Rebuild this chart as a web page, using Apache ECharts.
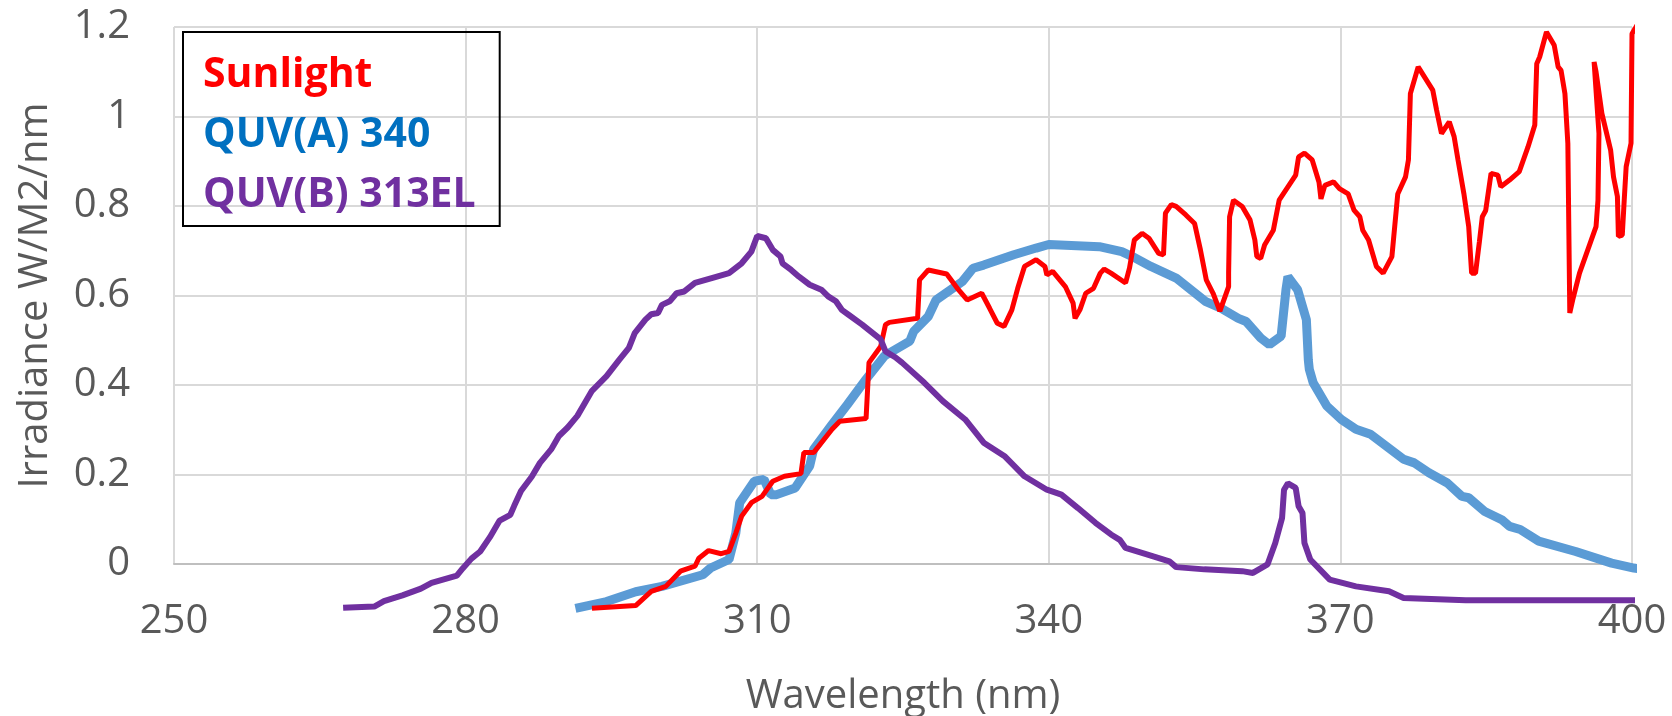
<!DOCTYPE html>
<html>
<head>
<meta charset="utf-8">
<script src="https://cdn.jsdelivr.net/npm/echarts@6/dist/echarts.min.js"></script>
<style>
html,body{margin:0;padding:0;background:#fff;}
#chart{width:1672px;height:716px;}
</style>
</head>
<body>
<div id="chart"></div>
<script>
// ---- data ----
const seriesNames = ['Sunlight', 'QUV(A) 340', 'QUV(B) 313EL'];
const wavelengthTicks = [250, 280, 310, 340, 370, 400];
const irradianceTicks = [0, 0.2, 0.4, 0.6, 0.8, 1, 1.2];

// [wavelength nm, irradiance W/m2/nm]
const sunlightData = [
  [293.0,-0.099],[297.5,-0.093],[299.1,-0.061],[300.6,-0.050],[302.1,-0.016],[303.6,-0.005],
  [304.0,0.013],[305.0,0.030],[306.3,0.023],[307.1,0.028],[307.8,0.069],[308.4,0.107],
  [309.4,0.137],[310.5,0.151],[311.6,0.185],[312.8,0.196],[314.5,0.202],[314.8,0.249],
  [315.8,0.249],[317.7,0.301],[318.5,0.319],[321.2,0.325],[321.5,0.450],[322.7,0.486],
  [323.2,0.535],[323.6,0.540],[326.5,0.549],[326.7,0.635],[327.6,0.657],[329.5,0.648],
  [330.7,0.613],[331.6,0.590],[333.1,0.605],[333.9,0.572],[334.7,0.538],[335.4,0.531],
  [336.2,0.568],[336.8,0.616],[337.5,0.665],[338.7,0.680],[339.6,0.665],[339.8,0.646],
  [340.4,0.654],[341.7,0.620],[342.5,0.583],[342.7,0.549],[343.2,0.568],[343.8,0.605],
  [344.6,0.616],[345.3,0.650],[345.7,0.659],[346.4,0.650],[347.9,0.628],[348.3,0.661],
  [348.8,0.724],[349.6,0.739],[350.3,0.728],[351.3,0.694],[351.8,0.691],[352.0,0.784],
  [352.6,0.803],[353.1,0.799],[354.1,0.780],[355.0,0.761],[355.6,0.702],[356.2,0.635],
  [356.9,0.605],[357.6,0.565],[358.5,0.620],[358.5,0.650],[358.6,0.776],[359.0,0.813],
  [359.9,0.799],[360.7,0.769],[361.2,0.724],[361.4,0.687],[361.8,0.683],[362.2,0.713],
  [363.1,0.746],[363.7,0.813],[365.4,0.869],[365.7,0.910],[366.3,0.918],[367.1,0.903],
  [367.8,0.853],[368.0,0.816],[368.4,0.846],[369.3,0.854],[369.9,0.839],[370.8,0.827],
  [371.4,0.791],[372.0,0.776],[372.3,0.746],[372.9,0.724],[373.7,0.665],[374.4,0.650],
  [375.3,0.687],[375.9,0.827],[376.7,0.865],[377.0,0.903],[377.2,1.051],[378.0,1.111],
  [379.5,1.059],[379.9,1.014],[380.4,0.962],[381.2,0.988],[381.7,0.955],[382.1,0.903],
  [382.7,0.828],[383.2,0.754],[383.5,0.650],[383.9,0.650],[384.3,0.720],[384.6,0.776],
  [384.95,0.790],[385.5,0.873],[386.2,0.869],[386.5,0.843],[387.4,0.858],[388.4,0.877],
  [389.3,0.932],[390.0,0.981],[390.2,1.118],[390.5,1.133],[391.2,1.189],[392.0,1.159],
  [392.4,1.111],[392.7,1.103],[393.1,1.051],[393.4,0.940],[393.6,0.561],[393.9,0.590],
  [394.6,0.650],[396.3,0.754],[396.5,0.813],[396.6,0.962],[396.1,1.122],[396.3,1.100],
  [396.9,1.007],[397.8,0.925],[398.1,0.865],[398.5,0.821],[398.6,0.732],[399.0,0.735],
  [399.2,0.813],[399.4,0.888],[399.9,0.940],[400.0,1.185],[400.6,1.207],[400.7,1.237]
];

const quvAData = [
  [291.3,-0.099],[294.5,-0.084],[297.5,-0.062],[300.2,-0.050],[304.4,-0.024],[305.2,-0.009],
  [307.1,0.010],[307.8,0.069],[308.2,0.137],[309.7,0.185],[310.7,0.189],[311.4,0.155],
  [312.0,0.155],[313.9,0.170],[315.4,0.219],[315.8,0.256],[317.7,0.312],[319.3,0.357],
  [321.2,0.413],[323.1,0.465],[325.7,0.498],[326.1,0.520],[327.6,0.553],[328.4,0.590],
  [331.1,0.631],[332.2,0.661],[333.3,0.668],[336.4,0.691],[338.7,0.706],[340.0,0.714],
  [345.2,0.709],[347.5,0.698],[348.6,0.687],[350.5,0.665],[353.1,0.639],[356.1,0.587],
  [357.7,0.572],[359.5,0.549],[360.3,0.542],[361.8,0.505],[362.7,0.490],[363.9,0.509],
  [364.4,0.613],[364.6,0.642],[365.6,0.613],[366.5,0.546],[366.7,0.456],[366.8,0.435],
  [367.2,0.405],[368.6,0.353],[370.1,0.323],[371.6,0.301],[373.1,0.290],[376.5,0.234],
  [377.6,0.226],[379.1,0.204],[381.0,0.181],[382.5,0.151],[383.2,0.148],[384.8,0.118],
  [386.6,0.099],[387.4,0.084],[388.5,0.077],[390.4,0.051],[394.2,0.028],[397.9,0.002],
  [400.2,-0.009],[401.3,-0.013]
];

const quvBData = [
  [267.4,-0.098],[270.6,-0.095],[271.6,-0.083],[273.5,-0.070],[275.4,-0.055],[276.5,-0.042],
  [279.1,-0.026],[279.7,-0.010],[280.6,0.012],[281.5,0.028],[282.5,0.060],[283.5,0.097],
  [284.6,0.110],[285.0,0.130],[285.7,0.163],[286.8,0.195],[287.65,0.226],[288.8,0.256],
  [289.6,0.286],[290.5,0.305],[291.5,0.331],[293.0,0.387],[294.5,0.420],[295.8,0.456],
  [296.8,0.483],[297.4,0.516],[298.5,0.546],[299.1,0.558],[299.8,0.561],[300.2,0.579],
  [301.0,0.587],[301.7,0.605],[302.5,0.609],[303.6,0.628],[305.5,0.640],[307.1,0.650],
  [308.4,0.672],[309.4,0.698],[310.0,0.733],[310.9,0.728],[311.6,0.702],[312.4,0.687],
  [312.6,0.672],[313.5,0.657],[314.3,0.642],[315.4,0.624],[316.6,0.613],[317.3,0.598],
  [318.1,0.587],[318.7,0.568],[319.4,0.557],[320.8,0.535],[322.7,0.502],[323.2,0.475],
  [324.2,0.462],[324.9,0.450],[327.2,0.405],[329.1,0.364],[331.4,0.323],[333.3,0.271],
  [335.5,0.240],[337.5,0.196],[339.8,0.166],[341.3,0.155],[343.0,0.125],[344.8,0.092],
  [346.4,0.066],[347.3,0.054],[347.9,0.036],[350.0,0.022],[352.4,0.006],[353.1,-0.007],
  [356.0,-0.012],[359.9,-0.016],[361.0,-0.020],[362.5,-0.001],[363.3,0.047],[364.0,0.103],
  [364.2,0.166],[364.6,0.180],[365.4,0.170],[365.7,0.129],[366.1,0.114],[366.3,0.047],
  [366.9,0.010],[368.9,-0.035],[371.6,-0.050],[375.0,-0.061],[376.5,-0.076],[382.9,-0.081],
  [401.3,-0.081]
];

// ---- styling ----
const lineColors = ['#FF0000', '#5B9BD5', '#7030A0'];
const legendColors = ['#FF0000', '#0070C0', '#7030A0'];
const axisFont = 'Open Sans';

const chart = echarts.init(document.getElementById('chart'), null, {renderer: 'canvas'});

chart.setOption({
  animation: false,
  backgroundColor: '#ffffff',
  grid: {left: 174, right: 40, top: 27, bottom: 152, containLabel: false, outerBoundsMode: 'none'},
  legend: {
    orient: 'vertical',
    left: 183, top: 32,
    icon: 'none',
    itemWidth: 0,
    itemGap: 0,
    padding: [13, 24, 1, 15],
    borderColor: '#000000',
    borderWidth: 2,
    selectedMode: false,
    textStyle: {fontFamily: axisFont, fontSize: 41, fontWeight: 'bold', lineHeight: 60},
    data: seriesNames.map((n, i) => ({name: n, textStyle: {color: legendColors[i]}}))
  },
  xAxis: {
    type: 'value',
    min: wavelengthTicks[0],
    max: wavelengthTicks[wavelengthTicks.length - 1],
    interval: wavelengthTicks[1] - wavelengthTicks[0],
    name: 'Wavelength (nm)',
    nameLocation: 'middle',
    nameGap: 113,
    nameTextStyle: {fontFamily: axisFont, fontSize: 40, color: '#595959'},
    axisLine: {show: true, onZero: false, lineStyle: {color: '#bfbfbf', width: 2}},
    axisTick: {show: false},
    axisLabel: {fontFamily: axisFont, fontSize: 40, color: '#595959', margin: 38},
    splitLine: {show: true, lineStyle: {color: '#d9d9d9', width: 2}}
  },
  yAxis: {
    type: 'value',
    min: irradianceTicks[0],
    max: irradianceTicks[irradianceTicks.length - 1],
    interval: irradianceTicks[1] - irradianceTicks[0],
    name: 'Irradiance W/M2/nm',
    nameLocation: 'middle',
    nameGap: 118,
    nameTextStyle: {fontFamily: axisFont, fontSize: 40, color: '#595959'},
    axisLine: {show: false},
    axisTick: {show: false},
    axisLabel: {fontFamily: axisFont, fontSize: 40, color: '#595959', margin: 44},
    splitLine: {show: true, lineStyle: {color: '#d9d9d9', width: 2}}
  },
  series: [
    {name: seriesNames[1], type: 'line', data: quvAData, showSymbol: false, clip: false, z: 2,
     lineStyle: {color: lineColors[1], width: 9}, itemStyle: {color: lineColors[1]}},
    {name: seriesNames[0], type: 'line', data: sunlightData, showSymbol: false, clip: false, z: 3,
     lineStyle: {color: lineColors[0], width: 5}, itemStyle: {color: lineColors[0]}},
    {name: seriesNames[2], type: 'line', data: quvBData, showSymbol: false, clip: false, z: 4,
     lineStyle: {color: lineColors[2], width: 6}, itemStyle: {color: lineColors[2]}}
  ]
});
</script>
</body>
</html>
